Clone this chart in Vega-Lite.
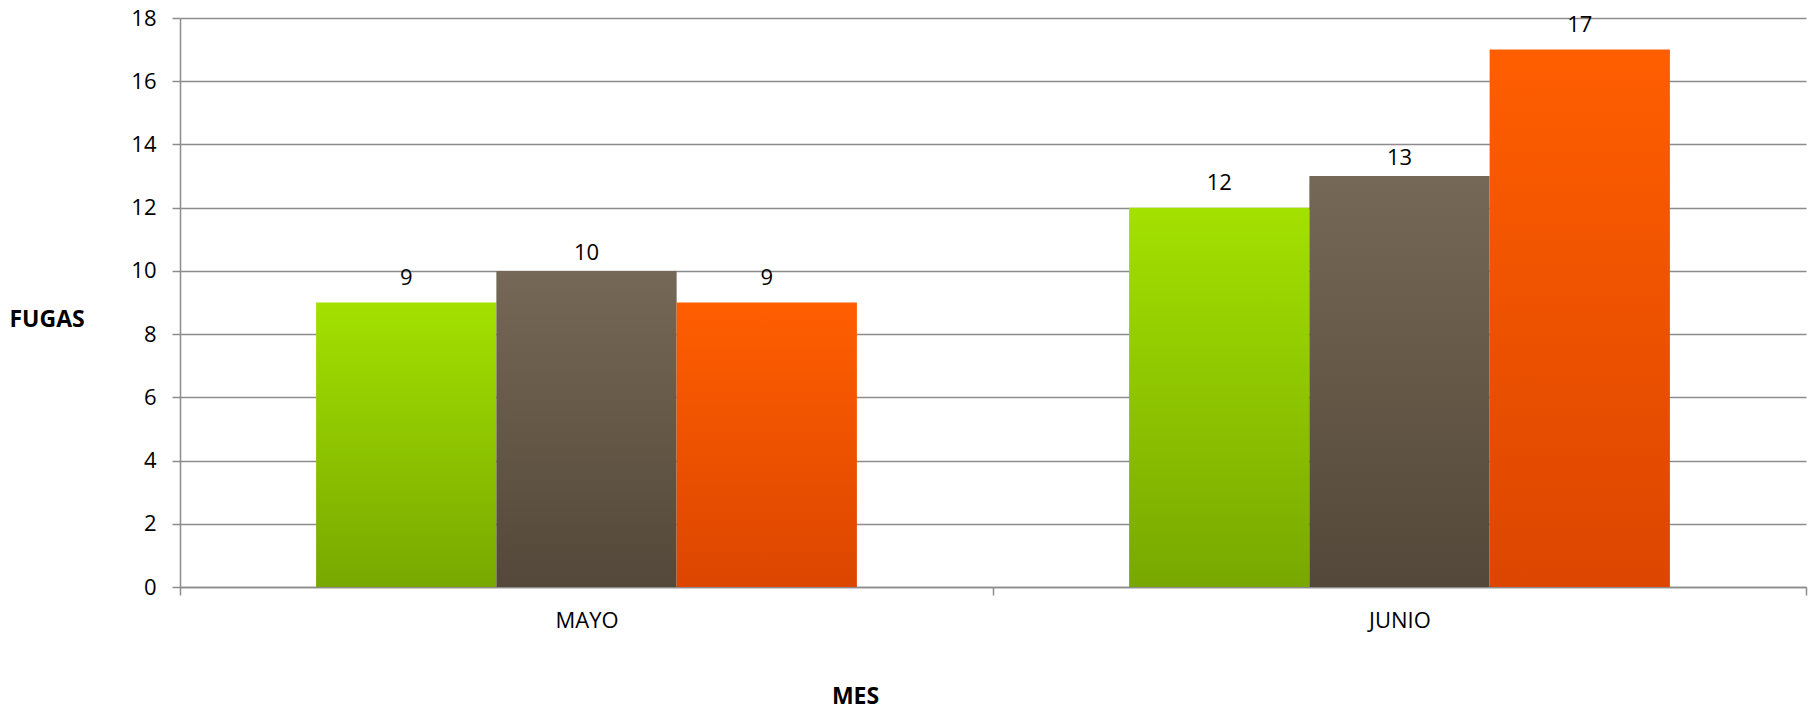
{
  "$schema": "https://vega.github.io/schema/vega-lite/v6.json",
  "autosize": "none",
  "width": 1626,
  "height": 569,
  "padding": {"left": 180, "top": 18, "right": 8, "bottom": 124},
  "background": "white",
  "config": {
    "view": {"stroke": null},
    "font": "Open Sans",
    "axis": {"labelFont": "Open Sans", "titleFont": "Open Sans"}
  },
  "data": {
    "values": [
      {"mes": "MAYO", "serie": "S1", "fugas": 9},
      {"mes": "MAYO", "serie": "S2", "fugas": 10},
      {"mes": "MAYO", "serie": "S3", "fugas": 9},
      {"mes": "JUNIO", "serie": "S1", "fugas": 12},
      {"mes": "JUNIO", "serie": "S2", "fugas": 13},
      {"mes": "JUNIO", "serie": "S3", "fugas": 17}
    ]
  },
  "encoding": {
    "x": {
      "field": "mes", "type": "nominal", "sort": ["MAYO", "JUNIO"],
      "scale": {"paddingInner": 0, "paddingOuter": 0},
      "axis": {
        "title": "MES", "titleFontSize": 23, "titleFontWeight": "bold", "titleColor": "#000",
        "titleX": 675, "titleY": 109, "titleBaseline": "middle", "titleAnchor": null, "titleAlign": "center",
        "labelAngle": 0, "labelFontSize": 22, "labelColor": "#000", "labelPadding": 15,
        "tickBand": "extent", "tickSize": 8, "tickColor": "#8c8c8c", "tickWidth": 1.5,
        "domainColor": "#8c8c8c", "domainWidth": 1.5, "grid": false
      }
    },
    "xOffset": {
      "field": "serie", "type": "nominal", "sort": ["S1", "S2", "S3"],
      "scale": {"paddingInner": 0, "paddingOuter": 0.755}
    },
    "y": {
      "field": "fugas", "type": "quantitative",
      "scale": {"domain": [0, 18], "nice": false},
      "axis": {
        "values": [0, 2, 4, 6, 8, 10, 12, 14, 16, 18],
        "title": "FUGAS", "titleAngle": 0, "titleFontSize": 23, "titleFontWeight": "bold", "titleColor": "#000",
        "titleX": -171, "titleY": 301, "titleAlign": "left", "titleBaseline": "middle", "titleAnchor": null,
        "labelFontSize": 22, "labelColor": "#000", "labelPadding": 16,
        "tickSize": 8, "tickColor": "#8c8c8c", "tickWidth": 1.5,
        "domainColor": "#8c8c8c", "domainWidth": 1.5,
        "grid": true, "gridColor": "#8c8c8c", "gridWidth": 1.5
      }
    }
  },
  "layer": [
    {
      "transform": [{"filter": "datum.serie === 'S1'"}],
      "mark": {"type": "bar", "color": {"gradient": "linear", "x1": 0, "y1": 0, "x2": 0, "y2": 1,
        "stops": [{"offset": 0, "color": "#a3e100"}, {"offset": 1, "color": "#78a800"}]}}
    },
    {
      "transform": [{"filter": "datum.serie === 'S2'"}],
      "mark": {"type": "bar", "color": {"gradient": "linear", "x1": 0, "y1": 0, "x2": 0, "y2": 1,
        "stops": [{"offset": 0, "color": "#766856"}, {"offset": 1, "color": "#534839"}]}}
    },
    {
      "transform": [{"filter": "datum.serie === 'S3'"}],
      "mark": {"type": "bar", "color": {"gradient": "linear", "x1": 0, "y1": 0, "x2": 0, "y2": 1,
        "stops": [{"offset": 0, "color": "#ff5e00"}, {"offset": 1, "color": "#dc4600"}]}}
    },
    {
      "transform": [{"filter": "datum.serie !== 'S2'"}],
      "mark": {"type": "text", "baseline": "alphabetic", "dy": -18, "fontSize": 22, "color": "#000", "font": "Open Sans"},
      "encoding": {"text": {"field": "fugas", "type": "quantitative"}}
    },
    {
      "transform": [{"filter": "datum.serie === 'S2'"}],
      "mark": {"type": "text", "baseline": "alphabetic", "dy": -11, "fontSize": 22, "color": "#000", "font": "Open Sans"},
      "encoding": {"text": {"field": "fugas", "type": "quantitative"}}
    }
  ]
}
